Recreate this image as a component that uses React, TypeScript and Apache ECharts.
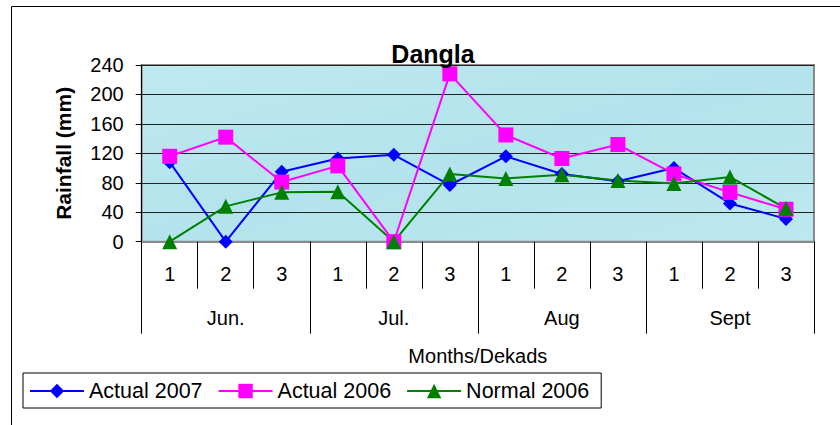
import React, { useEffect, useRef } from "react";
import * as echarts from "echarts";

const dekads = ["1", "2", "3", "1", "2", "3", "1", "2", "3", "1", "2", "3"];
const months = ["Jun.", "Jul.", "Aug", "Sept"];
const actual2007 = [108, 0, 95, 113, 118, 77, 116, 92, 82, 100, 52, 31];
const actual2006 = [116, 142, 81, 103, 0, 228, 145, 113, 132, 92, 67, 44];
const normal2006 = [0, 48, 67, 68, 0, 92, 86, 91, 83, 79, 88, 45];
const yTicks = { min: 0, max: 240, interval: 40 };

const FONT = "'Liberation Sans', Arial, sans-serif";

export default function App() {
  const ref = useRef<HTMLDivElement>(null);
  useEffect(() => {
    if (!ref.current) return;
    const chart = echarts.init(ref.current, null, { renderer: "svg" });
    chart.setOption({
      animation: false,
      backgroundColor: "#ffffff",
      textStyle: { fontFamily: FONT },
      title: {
        text: "Dangla",
        left: 428,
        top: 36,
        textAlign: "center",
        textStyle: { fontFamily: FONT, fontSize: 25, fontWeight: "bold", color: "#000" },
      },
      graphic: [
        {
          type: "rect",
          shape: { x: 11.5, y: 6.5, width: 900, height: 500 },
          style: { fill: "none", stroke: "#000", lineWidth: 1 },
          silent: true,
          z: -1,
        },
      ],
      grid: {
        left: 141.7,
        top: 65,
        right: 26,
        bottom: 183.3,
        show: true,
        backgroundColor: new echarts.graphic.LinearGradient(0, 0, 1, 1, [
          { offset: 0, color: "#bfe9f0" },
          { offset: 0.5, color: "#b3e3ec" },
          { offset: 1, color: "#bde8ef" },
        ]),
        borderColor: "#8a8a8a",
        borderWidth: 2,
      },
      legend: {
        left: 23,
        top: 373,
        orient: "horizontal",
        padding: [7, 12, 6, 6],
        itemGap: 15,
        itemWidth: 54,
        itemHeight: 18,
        borderColor: "#000",
        borderWidth: 1,
        textStyle: { fontFamily: FONT, fontSize: 21.5, color: "#000" },
        data: ["Actual 2007", "Actual 2006", "Normal 2006"],
      },
      xAxis: [
        {
          type: "category",
          position: "bottom",
          data: dekads,
          boundaryGap: true,
          axisLine: { show: true, lineStyle: { color: "#8a8a8a", width: 2 } },
          axisTick: { show: true, interval: 0, length: 47, lineStyle: { color: "#000", width: 1 } },
          axisLabel: { interval: 0, margin: 22, fontFamily: FONT, fontSize: 20, color: "#000" },
          splitLine: { show: false },
        },
        {
          type: "category",
          position: "bottom",
          data: months,
          boundaryGap: true,
          axisLine: { show: false },
          axisTick: { show: true, interval: 0, length: 92, lineStyle: { color: "#000", width: 1 } },
          axisLabel: { interval: 0, margin: 66, fontFamily: FONT, fontSize: 20, color: "#000" },
          splitLine: { show: false },
          name: "Months/Dekads",
          nameLocation: "middle",
          nameGap: 104,
          nameTextStyle: { fontFamily: FONT, fontSize: 20, color: "#000" },
        },
      ],
      yAxis: {
        type: "value",
        min: yTicks.min,
        max: yTicks.max,
        interval: yTicks.interval,
        name: "Rainfall (mm)",
        nameLocation: "middle",
        nameGap: 68,
        nameTextStyle: { fontFamily: FONT, fontSize: 21, fontWeight: "bold", color: "#000" },
        axisLine: { show: true, lineStyle: { color: "#000", width: 1 } },
        axisTick: { show: true, inside: false, length: 6, lineStyle: { color: "#000" } },
        axisLabel: { margin: 18, fontFamily: FONT, fontSize: 20, color: "#000" },
        splitLine: { show: true, lineStyle: { color: "#222", width: 1 } },
      },
      series: [
        {
          name: "Actual 2007",
          type: "line",
          data: actual2007,
          symbol: "diamond",
          symbolSize: 14,
          color: "#0000ff",
          lineStyle: { color: "#0000ff", width: 2 },
          itemStyle: { color: "#0000ff" },
        },
        {
          name: "Actual 2006",
          type: "line",
          data: actual2006,
          symbol: "rect",
          symbolSize: 15,
          color: "#ff00ff",
          lineStyle: { color: "#ff00ff", width: 2 },
          itemStyle: { color: "#ff00ff" },
        },
        {
          name: "Normal 2006",
          type: "line",
          data: normal2006,
          symbol: "triangle",
          symbolSize: 15,
          color: "#008000",
          lineStyle: { color: "#008000", width: 2 },
          itemStyle: { color: "#008000" },
        },
      ],
    });
    return () => chart.dispose();
  }, []);
  return (
    <div
      ref={ref}
      style={{ position: "fixed", left: 0, top: 0, width: 840, height: 425 }}
    />
  );
}
